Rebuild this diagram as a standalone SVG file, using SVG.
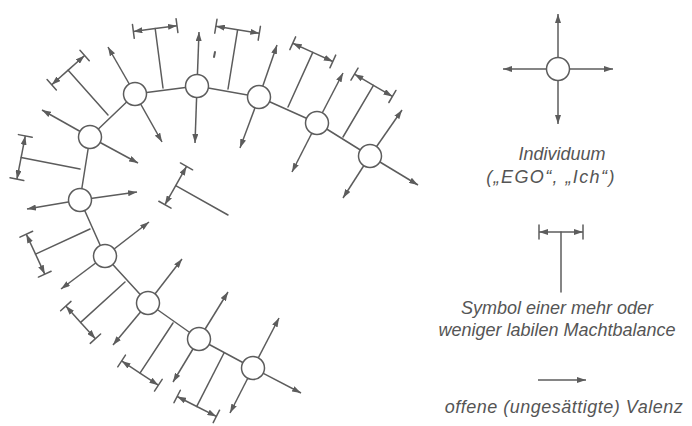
<svg xmlns="http://www.w3.org/2000/svg" xmlns:xlink="http://www.w3.org/1999/xlink" width="692" height="426" viewBox="0 0 692 426">
  <style>
    .ln { stroke: #5c5c5c; stroke-width: 1.5; fill: none; stroke-linecap: round; }
    .ar { stroke: #5c5c5c; stroke-width: 1.5; fill: none; marker-end: url(#head); }
    .nd { fill: #ffffff; stroke: #5c5c5c; stroke-width: 1.5; }
    .lbl { font-family: "Liberation Sans", Arial, sans-serif; font-style: italic; font-size: 18px; fill: #555555; text-anchor: middle; }
  </style>
  <defs>
    <marker id="head" markerUnits="userSpaceOnUse" markerWidth="10" markerHeight="6" refX="9" refY="3" orient="auto">
      <path d="M0,0 L9,3 L0,6 Z" fill="#5c5c5c"/>
    </marker>
    <!-- balance of power: stem from the bond, crossbar with arrows out to the end ticks -->
    <g id="bal">
      <line class="ln" x1="0" y1="0" x2="0" y2="-60"/>
      <line class="ar" x1="0" y1="-60" x2="-22" y2="-60"/>
      <line class="ar" x1="0" y1="-60" x2="22" y2="-60"/>
      <line class="ln" x1="-22" y1="-67" x2="-22" y2="-53"/>
      <line class="ln" x1="22" y1="-67" x2="22" y2="-53"/>
    </g>
  </defs>
  <rect width="692" height="426" fill="#ffffff"/>

  <!-- bonds and open valences -->
  <g id="connectors">
    <line class="ln" x1="80" y1="200" x2="90" y2="137"/>
    <line class="ln" x1="90" y1="137" x2="135" y2="94"/>
    <line class="ln" x1="135" y1="94" x2="197" y2="86"/>
    <line class="ln" x1="197" y1="86" x2="259" y2="97"/>
    <line class="ln" x1="259" y1="97" x2="317" y2="123"/>
    <line class="ln" x1="317" y1="123" x2="370" y2="156"/>
    <line class="ln" x1="80" y1="200" x2="105" y2="256"/>
    <line class="ln" x1="105" y1="256" x2="148" y2="303"/>
    <line class="ln" x1="148" y1="303" x2="199" y2="339"/>
    <line class="ln" x1="199" y1="339" x2="253" y2="368"/>

    <line class="ar" x1="80" y1="200" x2="27" y2="209"/>
    <line class="ar" x1="80" y1="200" x2="137" y2="192"/>
    <line class="ar" x1="90" y1="137" x2="42" y2="110"/>
    <line class="ar" x1="90" y1="137" x2="138" y2="163"/>
    <line class="ar" x1="135" y1="94" x2="108" y2="47"/>
    <line class="ar" x1="135" y1="94" x2="162" y2="142"/>
    <line class="ar" x1="197" y1="86" x2="199" y2="32"/>
    <line class="ar" x1="197" y1="86" x2="195" y2="143"/>
    <line class="ar" x1="259" y1="97" x2="277" y2="45"/>
    <line class="ar" x1="259" y1="97" x2="240" y2="148"/>
    <line class="ar" x1="317" y1="123" x2="343" y2="73"/>
    <line class="ar" x1="317" y1="123" x2="292" y2="172"/>
    <line class="ar" x1="370" y1="156" x2="402" y2="110"/>
    <line class="ar" x1="370" y1="156" x2="343" y2="198"/>
    <line class="ar" x1="370" y1="156" x2="418" y2="185"/>
    <line class="ar" x1="105" y1="256" x2="149" y2="222"/>
    <line class="ar" x1="105" y1="256" x2="61" y2="289"/>
    <line class="ar" x1="148" y1="303" x2="182" y2="259"/>
    <line class="ar" x1="148" y1="303" x2="113" y2="345"/>
    <line class="ar" x1="199" y1="339" x2="228" y2="292"/>
    <line class="ar" x1="199" y1="339" x2="173" y2="382"/>
    <line class="ar" x1="253" y1="368" x2="279" y2="318"/>
    <line class="ar" x1="253" y1="368" x2="230" y2="413"/>
    <line class="ar" x1="253" y1="368" x2="301" y2="393"/>

    <!-- legend valences -->
    <line class="ar" x1="558" y1="69" x2="558" y2="14"/>
    <line class="ar" x1="558" y1="69" x2="503" y2="69"/>
    <line class="ar" x1="558" y1="69" x2="613" y2="69"/>
    <line class="ar" x1="558" y1="69" x2="558" y2="124"/>
    <line class="ar" x1="538" y1="380" x2="586" y2="380"/>
  </g>

  <!-- balance symbols on the bonds -->
  <g id="balances">
    <use xlink:href="#bal" transform="translate(80,169) rotate(-79)"/>
    <use xlink:href="#bal" transform="translate(108,115) rotate(-41.6)"/>
    <use xlink:href="#bal" transform="translate(163,88) rotate(-7.5)"/>
    <use xlink:href="#bal" transform="translate(228,89) rotate(9.2)"/>
    <use xlink:href="#bal" transform="translate(288,107) rotate(24.4)"/>
    <use xlink:href="#bal" transform="translate(343,137) rotate(30.5)"/>
    <use xlink:href="#bal" transform="translate(90,229) rotate(-114.8)"/>
    <use xlink:href="#bal" transform="translate(125,282) rotate(-132.3)"/>
    <use xlink:href="#bal" transform="translate(173,323) rotate(-146.6)"/>
    <use xlink:href="#bal" transform="translate(224,353) rotate(-153)"/>
    <use xlink:href="#bal" transform="translate(228,215) rotate(-60.6)"/>
    <use xlink:href="#bal" transform="translate(561,292)"/>
    <line class="ln" x1="215" y1="52" x2="214" y2="57" style="stroke-width:2"/>
  </g>

  <!-- individuals -->
  <g id="n1"><circle class="nd" cx="80" cy="200" r="11.5"/></g>
  <g id="n2"><circle class="nd" cx="90" cy="137" r="11.5"/></g>
  <g id="n3"><circle class="nd" cx="135" cy="94" r="11.5"/></g>
  <g id="n4"><circle class="nd" cx="197" cy="86" r="11.5"/></g>
  <g id="n5"><circle class="nd" cx="259" cy="97" r="11.5"/></g>
  <g id="n6"><circle class="nd" cx="317" cy="123" r="11.5"/></g>
  <g id="n7"><circle class="nd" cx="370" cy="156" r="11.5"/></g>
  <g id="n8"><circle class="nd" cx="105" cy="256" r="11.5"/></g>
  <g id="n9"><circle class="nd" cx="148" cy="303" r="11.5"/></g>
  <g id="n10"><circle class="nd" cx="199" cy="339" r="11.5"/></g>
  <g id="n11"><circle class="nd" cx="253" cy="368" r="11.5"/></g>

  <!-- legend -->
  <g id="legend-individual">
    <circle class="nd" cx="558" cy="69" r="11.5"/>
    <text class="lbl" x="562" y="160">Individuum</text>
    <text class="lbl" x="551" y="183" letter-spacing="1.4">(„EGO“, „Ich“)</text>
  </g>
  <g id="legend-balance">
    <text class="lbl" x="557" y="314">Symbol einer mehr oder</text>
    <text class="lbl" x="557" y="336">weniger labilen Machtbalance</text>
  </g>
  <g id="legend-valence">
    <text class="lbl" x="564" y="413" letter-spacing="0.5">offene (ungesättigte) Valenz</text>
  </g>
</svg>
